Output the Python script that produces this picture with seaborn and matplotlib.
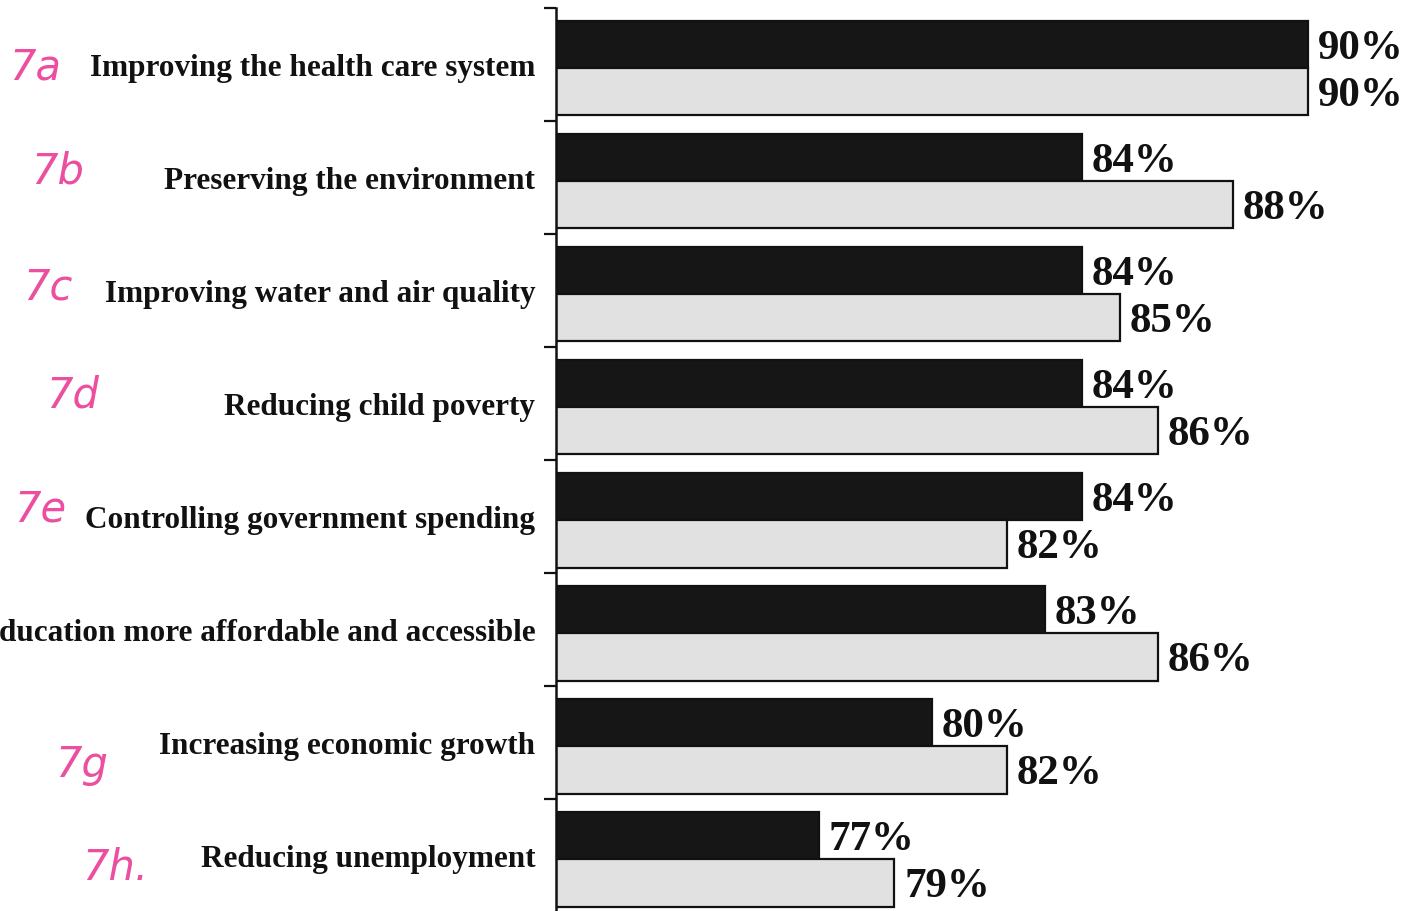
import pandas as pd
import numpy as np
import matplotlib.pyplot as plt
import seaborn as sns

# survey items, top to bottom
items = [
    "Improving the health care system",
    "Preserving the environment",
    "Improving water and air quality",
    "Reducing child poverty",
    "Controlling government spending",
    "ducation more affordable and accessible",
    "Increasing economic growth",
    "Reducing unemployment",
]
series = ["Series 1", "Series 2"]
first_vals = [90, 84, 84, 84, 84, 83, 80, 77]
second_vals = [90, 88, 85, 86, 82, 86, 82, 79]
# handwritten margin notes (item, text)
notes = [(0, "7a"), (1, "7b"), (2, "7c"), (3, "7d"), (4, "7e"), (6, "7g"), (7, "7h.")]

df = pd.DataFrame({
    "item": items * 2,
    "value": first_vals + second_vals,
    "series": [series[0]] * len(items) + [series[1]] * len(items),
})

sns.set_style("white")
plt.rcParams["font.family"] = ["Liberation Serif", "DejaVu Serif"]

W, H = 1414, 911
fig = plt.figure(figsize=(W / 100, H / 100), dpi=100)
ax_left, ax_top = 556 / W, 8 / H
ax = fig.add_axes([ax_left, 0, 1 - ax_left, 1 - ax_top])

sns.barplot(data=df, y="item", x="value", hue="series", orient="h",
            palette=["#161616", "#e1e1e1"], width=0.836, gap=0,
            edgecolor="#111111", linewidth=1.6, legend=False, ax=ax)

ax.set_xlim(70, 70 + (W - 556) / 37.6)
ax.set_ylim(7.456, -0.5)

for cont, vals in zip(ax.containers, [first_vals, second_vals]):
    anns = ax.bar_label(cont, labels=[f"{v}%" for v in vals], padding=7,
                        fontsize=31, fontweight="bold", color="#111111")
    for a in anns:
        a.xyann = (7, -3)

# group boundaries as tick marks, labels at the group centres
ax.set_yticks(np.arange(len(items)) - 0.531, minor=False)
ax.set_yticklabels([])
ax.set_yticks(np.arange(len(items)) - 0.031, minor=True)
ax.set_yticklabels(items, minor=True, fontsize=22.5, fontweight="bold",
                   color="#111111")
ax.tick_params(axis="y", which="major", left=True, length=9, width=1.6,
               color="#111111")
ax.tick_params(axis="y", which="minor", left=False, length=0, pad=15)
ax.set_xticks([])
ax.set_xlabel("")
ax.set_ylabel("")

for side in ["top", "right", "bottom"]:
    ax.spines[side].set_visible(False)
ax.spines["left"].set_color("#111111")
ax.spines["left"].set_linewidth(1.8)

note_pos = {0: (35, 68), 1: (58, 172), 2: (48, 287), 3: (73, 395),
            4: (40, 510), 6: (82, 765), 7: (115, 868)}
for idx, txt in notes:
    x, y = note_pos[idx]
    fig.text(x / W, 1 - y / H, txt, ha="center", va="center",
             fontsize=30, color="#ec4fa0", family="DejaVu Sans",
             fontweight="light", style="italic")

fig.savefig("out.png", dpi=100)
